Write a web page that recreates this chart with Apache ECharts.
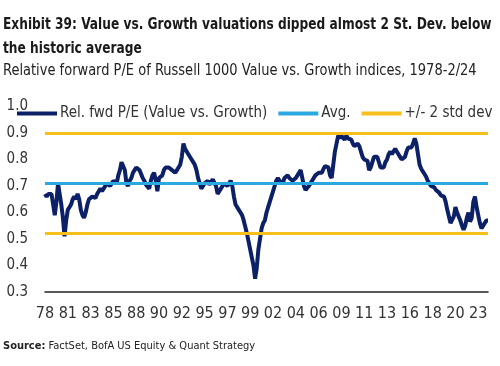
<!DOCTYPE html>
<html><head><meta charset="utf-8">
<script src="https://cdn.jsdelivr.net/npm/echarts@6/dist/echarts.min.js"></script>
<style>html,body{margin:0;padding:0;background:#fff}#c{width:500px;height:366px}</style>
</head><body><div id="c"></div>
<script>
// Bimonthly observations starting Oct 1978 through Feb 2024
const startYear = 1978, startMonth = 10, stepMonths = 2;
const relPE = [
0.67,0.66,0.67,0.67,0.67,0.63,0.59,0.64,0.71,0.67,
0.63,0.58,0.51,0.57,0.61,0.62,0.63,0.65,0.66,0.65,
0.67,0.65,0.61,0.59,0.58,0.60,0.63,0.65,0.655,0.66,
0.655,0.655,0.67,0.68,0.69,0.68,0.69,0.70,0.71,0.71,
0.70,0.71,0.72,0.72,0.71,0.74,0.76,0.79,0.79,0.76,
0.71,0.70,0.72,0.73,0.75,0.76,0.77,0.765,0.76,0.745,
0.73,0.72,0.705,0.70,0.69,0.72,0.74,0.75,0.72,0.68,
0.73,0.735,0.74,0.76,0.77,0.77,0.77,0.765,0.76,0.755,
0.75,0.76,0.77,0.78,0.81,0.86,0.84,0.83,0.82,0.815,
0.80,0.79,0.78,0.76,0.73,0.71,0.69,0.70,0.71,0.715,
0.72,0.705,0.71,0.725,0.72,0.70,0.67,0.68,0.69,0.70,
0.71,0.705,0.70,0.71,0.72,0.70,0.66,0.63,0.62,0.61,
0.60,0.59,0.57,0.545,0.52,0.49,0.46,0.43,0.40,0.35,
0.39,0.46,0.50,0.54,0.56,0.57,0.60,0.62,0.64,0.66,
0.68,0.70,0.72,0.73,0.72,0.715,0.71,0.73,0.735,0.74,
0.73,0.73,0.72,0.725,0.73,0.74,0.75,0.76,0.73,0.70,
0.685,0.69,0.70,0.71,0.72,0.73,0.74,0.745,0.75,0.745,
0.75,0.765,0.775,0.78,0.77,0.74,0.73,0.78,0.83,0.86,
0.89,0.88,0.89,0.895,0.875,0.89,0.88,0.885,0.875,0.86,
0.85,0.855,0.86,0.85,0.83,0.81,0.80,0.80,0.795,0.76,
0.77,0.79,0.81,0.81,0.81,0.79,0.77,0.765,0.77,0.79,
0.80,0.82,0.83,0.82,0.83,0.84,0.83,0.82,0.81,0.80,
0.805,0.81,0.83,0.845,0.85,0.845,0.86,0.88,0.86,0.82,
0.78,0.765,0.755,0.745,0.735,0.72,0.71,0.70,0.705,0.695,
0.685,0.68,0.675,0.665,0.66,0.66,0.64,0.61,0.585,0.56,
0.565,0.585,0.62,0.60,0.585,0.57,0.55,0.535,0.55,0.58,
0.60,0.565,0.58,0.64,0.66,0.62,0.59,0.56,0.54,0.545,
0.56,0.57,0.57
];
const avgLevel = 0.706;
const upperBand = 0.895;
const lowerBand = 0.517;
const yTicks = ['0.3','0.4','0.5','0.6','0.7','0.8','0.9','1.0'];
const xTickLabels = ['78','81','83','85','88','90','92','95','97','99','02','04','06','09','11','13','16','18','20','23'];
const seriesNames = ['Rel. fwd P/E (Value vs. Growth)','Avg.','+/- 2 std dev'];
const titleLines = ['Exhibit 39: Value vs. Growth valuations dipped almost 2 St. Dev. below', 'the historic average'];
const subtitleText = 'Relative forward P/E of Russell 1000 Value vs. Growth indices, 1978-2/24';
const sourceText = 'FactSet, BofA US Equity & Quant Strategy';

const categories = [];
for (let i = 0; i < relPE.length; i++) {
  const m = startMonth - 1 + i * stepMonths;
  const y = startYear + Math.floor(m / 12);
  const mm = (m % 12) + 1;
  categories.push(y + '-' + (mm < 10 ? '0' : '') + mm);
}
const labelEvery = 14;

const FONT = '"Liberation Sans Narrow","DejaVu Sans Condensed","Roboto",sans-serif';
const NAVY = '#0c2068', SKY = '#2aa9e0', GOLD = '#f7bf1c';

const chart = echarts.init(document.getElementById('c'), null, {renderer: 'canvas'});
chart.setOption({
  animation: false,
  backgroundColor: '#fff',
  graphic: [
    {type: 'text', x: 3, y: 17, scaleX: 0.875, originX: 0,
     style: {text: titleLines[0], font: 'bold 15.5px ' + FONT, fill: '#1a1a1a', textVerticalAlign: 'top'}},
    {type: 'text', x: 3, y: 41, scaleX: 0.875, originX: 0,
     style: {text: titleLines[1], font: 'bold 15.5px ' + FONT, fill: '#1a1a1a', textVerticalAlign: 'top'}},
    {type: 'text', x: 3, y: 64, scaleX: 0.965, originX: 0,
     style: {text: subtitleText, font: '15px ' + FONT, fill: '#222', textVerticalAlign: 'top'}}
  ],
  title: [
    {text: '{b|Source:} ' + sourceText,
     left: 3, top: 341, padding: 0,
     textStyle: {fontFamily: FONT, fontWeight: 'normal', fontSize: 11, color: '#222',
       rich: {b: {fontFamily: FONT, fontWeight: 'bold', fontSize: 11, color: '#222'}}}}
  ],
  legend: {
    left: 17, top: 106, padding: 0, width: 490, itemGap: 11, itemWidth: 40, itemHeight: 4, icon: 'rect',
    textStyle: {fontFamily: FONT, fontSize: 15, color: '#333', padding: [0, 0, 0, -2]},
    data: seriesNames.map(n => ({name: n}))
  },
  grid: {left: 45, right: 12, top: 106.5, bottom: 74, containLabel: false},
  xAxis: {
    type: 'category', data: categories, boundaryGap: false,
    axisLine: {lineStyle: {color: '#222', width: 1.5}},
    axisTick: {show: false},
    axisLabel: {
      interval: labelEvery - 1, margin: 14, color: '#333', fontFamily: FONT, fontSize: 16,
      formatter: (v, idx) => xTickLabels[Math.round(idx / labelEvery)] || ''
    },
    splitLine: {show: false}
  },
  yAxis: {
    type: 'value', min: 0.3, max: 1.0, interval: 0.1,
    axisLine: {show: false}, axisTick: {show: false}, splitLine: {show: false},
    axisLabel: {margin: 17, color: '#333', fontFamily: FONT, fontSize: 15,
      formatter: v => yTicks[Math.round((v - 0.3) * 10)] || ''}
  },
  series: [
    {name: seriesNames[0], type: 'line', data: relPE, symbol: 'none', z: 3,
     itemStyle: {color: NAVY}, lineStyle: {color: NAVY, width: 4}, smooth: false},
    {name: seriesNames[1], type: 'line', data: [], symbol: 'none', z: 4,
     itemStyle: {color: SKY}, lineStyle: {color: SKY, width: 3},
     markLine: {silent: true, symbol: 'none', label: {show: false}, z: 4,
       lineStyle: {color: SKY, width: 3, type: 'solid'}, data: [{yAxis: avgLevel}]}},
    {name: seriesNames[2], type: 'line', data: [], symbol: 'none', z: 4,
     itemStyle: {color: GOLD}, lineStyle: {color: GOLD, width: 3},
     markLine: {silent: true, symbol: 'none', label: {show: false}, z: 4,
       lineStyle: {color: GOLD, width: 3, type: 'solid'}, data: [{yAxis: upperBand}, {yAxis: lowerBand}]}}
  ]
});
</script>
</body></html>
